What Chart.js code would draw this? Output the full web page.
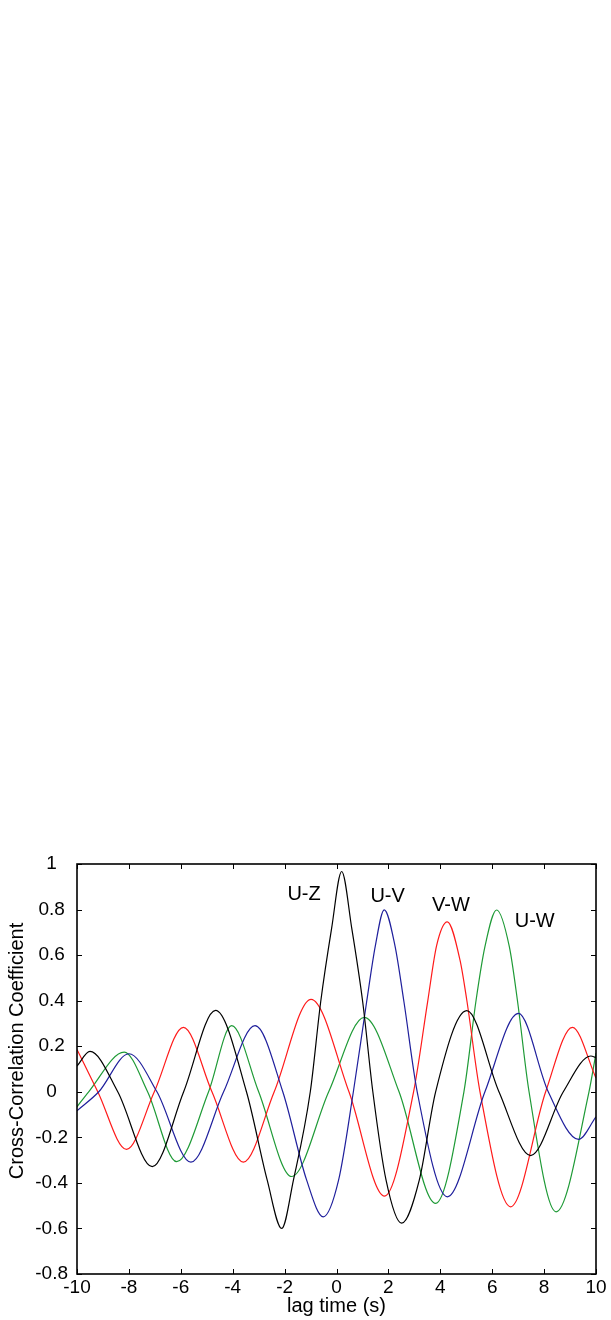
<!DOCTYPE html>
<html>
<head>
<meta charset="utf-8">
<script src="https://cdn.jsdelivr.net/npm/chart.js@4"></script>
<style>
  html, body { margin: 0; padding: 0; background: #fff; }
  #wrap { width: 611px; height: 1320px; }
</style>
</head>
<body>
<div id="wrap"><canvas id="ccf" width="611" height="1320"></canvas></div>
<script>
/* ---------- DATA ---------- */
const xTicks = [-10, -8, -6, -4, -2, 0, 2, 4, 6, 8, 10];
const yTicks = [-0.8, -0.6, -0.4, -0.2, 0, 0.2, 0.4, 0.6, 0.8, 1];

// U-Z (black)
const uzLag  = [-10, -9.50, -8.43, -7.10, -5.89, -4.66, -3.47, -2.67, -2.11, -1.66, -1.01, -0.61, -0.19, 0.20, 0.59, 1.01, 1.40, 1.91, 2.51, 3.19, 3.82, 5.02, 6.26, 7.48, 8.74, 9.80, 10];
const uzCoef = [0.113, 0.177, 0, -0.329, 0, 0.357, 0, -0.388, -0.600, -0.388, 0, 0.394, 0.716, 0.967, 0.716, 0.394, 0, -0.388, -0.577, -0.388, 0, 0.356, 0, -0.280, 0, 0.157, 0.150];

// U-V (blue)
const uvLag  = [-10, -9.16, -8.00, -6.92, -5.61, -4.35, -3.14, -2.07, -1.15, -0.51, 0.08, 0.65, 1.16, 1.50, 1.84, 2.25, 2.60, 3.11, 4.27, 5.72, 7.01, 8.16, 9.33, 10];
const uvCoef = [-0.083, 0, 0.167, 0, -0.309, 0, 0.290, 0, -0.388, -0.549, -0.388, 0, 0.394, 0.643, 0.799, 0.643, 0.394, 0, -0.461, 0, 0.344, 0, -0.209, -0.110];

// V-W (red)
const vwLag  = [-10, -9.20, -8.09, -7.02, -5.90, -4.80, -3.59, -2.40, -0.98, 0.48, 1.85, 2.97, 3.51, 3.86, 4.27, 4.76, 5.02, 5.53, 6.71, 8.06, 9.09, 10];
const vwCoef = [0.186, 0, -0.253, 0, 0.283, 0, -0.309, 0, 0.406, 0, -0.458, 0, 0.394, 0.643, 0.746, 0.578, 0.403, 0, -0.505, 0, 0.283, 0.060];

// U-W (green)
const uwLag  = [-10, -9.55, -8.18, -7.28, -6.16, -4.93, -4.04, -3.00, -1.73, -0.30, 1.07, 2.41, 3.82, 4.91, 5.38, 5.72, 6.17, 6.66, 6.97, 7.42, 8.46, 9.73, 10];
const uwCoef = [-0.066, 0, 0.174, 0, -0.307, 0, 0.290, 0, -0.372, 0, 0.327, 0, -0.490, 0, 0.403, 0.637, 0.798, 0.637, 0.403, 0, -0.527, 0, 0.170];

// curve labels, anchored in data coordinates
const curveNames = ['U-Z', 'U-V', 'V-W', 'U-W'];
const labelLag   = [-1.25, 1.97, 4.41, 7.64];
const labelCoef  = [0.864, 0.859, 0.816, 0.749];

const FONT = '"Liberation Sans", Arial, sans-serif';

function pairs(xs, ys) {
  return xs.map((v, i) => ({ x: v, y: ys[i] }));
}

function series(label, xs, ys, color) {
  return {
    label,
    data: pairs(xs, ys),
    borderColor: color,
    borderWidth: 1.2,
    pointRadius: 0,
    fill: false,
    cubicInterpolationMode: 'monotone'
  };
}

/* ---------- frame, inward ticks, labels ---------- */
const framePlugin = {
  id: 'frame',
  afterDatasetsDraw(chart) {
    const { ctx, chartArea: a } = chart;
    const x = chart.scales.x, y = chart.scales.y;
    ctx.save();
    ctx.strokeStyle = '#000';
    ctx.lineWidth = 1;
    ctx.beginPath();
    xTicks.forEach(v => {
      const px = Math.round(x.getPixelForValue(v)) + 0.5;
      ctx.moveTo(px, a.bottom); ctx.lineTo(px, a.bottom - 5);
      ctx.moveTo(px, a.top);    ctx.lineTo(px, a.top + 5);
    });
    yTicks.forEach(v => {
      const py = Math.round(y.getPixelForValue(v)) + 0.5;
      ctx.moveTo(a.left, py);  ctx.lineTo(a.left + 5, py);
      ctx.moveTo(a.right, py); ctx.lineTo(a.right - 5, py);
    });
    ctx.stroke();
    ctx.lineWidth = 1.6;
    ctx.strokeRect(a.left, a.top, a.right - a.left, a.bottom - a.top);

    ctx.fillStyle = '#000';
    ctx.font = '20px ' + FONT;
    ctx.textAlign = 'center';
    ctx.textBaseline = 'middle';
    curveNames.forEach((n, i) => {
      ctx.fillText(n, x.getPixelForValue(labelLag[i]), y.getPixelForValue(labelCoef[i]));
    });

    // y axis title
    ctx.translate(17, (a.top + a.bottom) / 2 - 18);
    ctx.rotate(-Math.PI / 2);
    ctx.fillText('Cross-Correlation Coefficient', 0, 0);
    ctx.restore();
  }
};

Chart.defaults.color = '#000';
Chart.defaults.font.family = FONT;

new Chart(document.getElementById('ccf'), {
  type: 'line',
  data: {
    datasets: [
      series('U-Z', uzLag, uzCoef, '#000000'),
      series('U-V', uvLag, uvCoef, '#1f1f9c'),
      series('V-W', vwLag, vwCoef, '#ff1a1a'),
      series('U-W', uwLag, uwCoef, '#1e9a36')
    ]
  },
  options: {
    responsive: false,
    animation: false,
    devicePixelRatio: 1,
    layout: { padding: { top: 864, right: 15, left: 0, bottom: 0 } },
    plugins: { legend: { display: false }, tooltip: { enabled: false } },
    scales: {
      x: {
        type: 'linear',
        min: -10,
        max: 10,
        afterBuildTicks: s => { s.ticks = xTicks.map(v => ({ value: v })); },
        afterFit: s => { s.height = 46; },
        grid: { display: false, drawTicks: false },
        border: { display: false },
        ticks: {
          padding: 2,
          maxRotation: 0,
          autoSkip: false,
          font: { size: 19 },
          callback: v => String(v)
        },
        title: {
          display: true,
          text: 'lag time (s)',
          font: { size: 20 },
          padding: { top: 0, bottom: 2 }
        }
      },
      y: {
        type: 'linear',
        min: -0.8,
        max: 1,
        afterBuildTicks: s => { s.ticks = yTicks.map(v => ({ value: v })); },
        afterFit: s => { s.width = 77; },
        grid: { display: false, drawTicks: false },
        border: { display: false },
        ticks: {
          padding: 9,
          crossAlign: 'center',
          autoSkip: false,
          font: { size: 19 },
          callback: v => String(Math.round(v * 10) / 10)
        }
      }
    }
  },
  plugins: [framePlugin]
});
</script>
</body>
</html>
